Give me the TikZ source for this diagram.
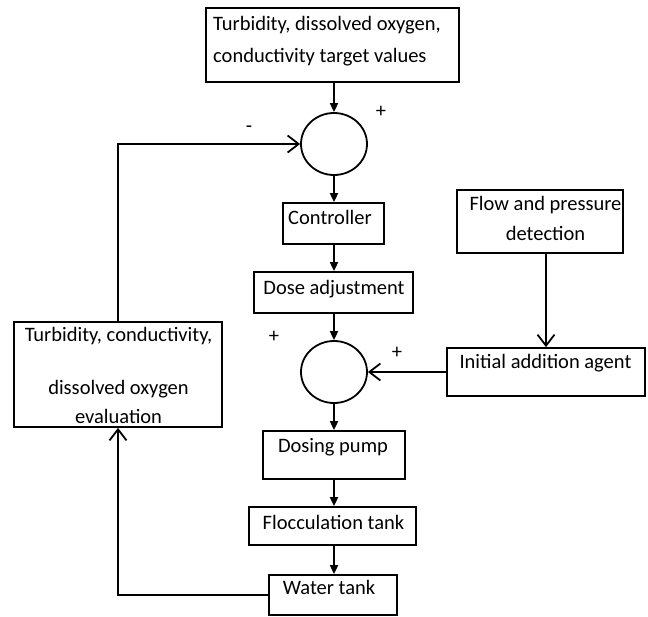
\documentclass[tikz,border=0pt]{standalone}
\usepackage{fontspec}
\setmainfont{Carlito}
\usetikzlibrary{arrows.meta,shapes.geometric}
\begin{document}
\begin{tikzpicture}[x=1pt,y=-1pt,
  box/.style={draw,line width=1.8pt,rectangle,inner sep=0pt},
  sumc/.style={draw,line width=1.8pt,ellipse,inner sep=0pt,minimum width=66pt,minimum height=62pt},
  txt/.style={inner sep=0pt,anchor=base,font=\fontsize{20.5}{24}\selectfont},
  farrow/.style={line width=1.8pt,-{Triangle[length=9pt,width=8pt]}},
  oarrow/.style={line width=1.8pt,-{Straight Barb[length=11pt,width=17pt,line width=1.8pt]}},
  fline/.style={line width=1.8pt}]
\useasboundingbox (0,0) rectangle (648,616);
% boxes
\node[box,minimum width=253pt,minimum height=74pt] (top) at (332.5,45) {};
\node[box,minimum width=101pt,minimum height=41pt] (ctrl) at (333.5,223.5) {};
\node[box,minimum width=159pt,minimum height=41pt] (dose) at (333.5,292.5) {};
\node[box,minimum width=166pt,minimum height=63pt] (flow) at (540,221.5) {};
\node[box,minimum width=198pt,minimum height=48pt] (init) at (546,372) {};
\node[box,minimum width=208pt,minimum height=105pt] (left) at (118,374.5) {};
\node[box,minimum width=142pt,minimum height=48pt] (pump) at (334,455) {};
\node[box,minimum width=167pt,minimum height=38pt] (floc) at (332.5,526) {};
\node[box,minimum width=128pt,minimum height=40pt] (water) at (333,595) {};
% summing junctions
\node[sumc] (c1) at (334,144) {};
\node[sumc] (c2) at (334,372) {};
% texts
\node[txt,anchor=base west] (topA) at (213,30) {Turbidity, dissolved oxygen,};
\node[txt,anchor=base west] (topB) at (213,62) {conductivity target values};
\node[txt] (ctrlT) at (330,224) {Controller};
\node[txt] (doseT) at (334,294) {Dose adjustment};
\node[txt] (flowA) at (545.5,210) {Flow and pressure};
\node[txt] (flowB) at (545.5,240) {detection};
\node[txt] (initT) at (545.5,368) {Initial addition agent};
\node[txt] (leftA) at (118.5,341) {Turbidity, conductivity,};
\node[txt] (leftB) at (118.5,394) {dissolved oxygen};
\node[txt] (leftC) at (118.5,423) {evaluation};
\node[txt] (pumpT) at (333,452) {Dosing pump};
\node[txt] (flocT) at (333.5,529) {Flocculation tank};
\node[txt] (waterT) at (329,594) {Water tank};
% signs
\node[txt,anchor=center] (s1) at (381,112) {+};
\node[txt,anchor=center] (s2) at (249,129) {-};
\node[txt,anchor=center] (s3) at (274,337) {+};
\node[txt,anchor=center] (s4) at (397,353) {+};
% connectors
\draw[farrow] (c1.north |- top.south) -- (c1.north);
\draw[farrow] (c1.south) -- (c1.south |- ctrl.north);
\draw[farrow] (c1.south |- ctrl.south) -- (c1.south |- dose.north);
\draw[farrow] (c2.north |- dose.south) -- (c2.north);
\draw[farrow] (c2.south) -- (c2.south |- pump.north);
\draw[farrow] (c2.south |- pump.south) -- (c2.south |- floc.north);
\draw[farrow] (c2.south |- floc.south) -- (c2.south |- water.north);
\draw[oarrow] (init.north |- flow.south) -- (init.north);
\draw[oarrow] (init.west) -- (c2.east);
\draw[oarrow] (water.west) -- (left.south |- water.west) -- (left.south);
\draw[oarrow] (left.north) -- (left.north |- c1.west) -- (c1.west);
\end{tikzpicture}
\end{document}
